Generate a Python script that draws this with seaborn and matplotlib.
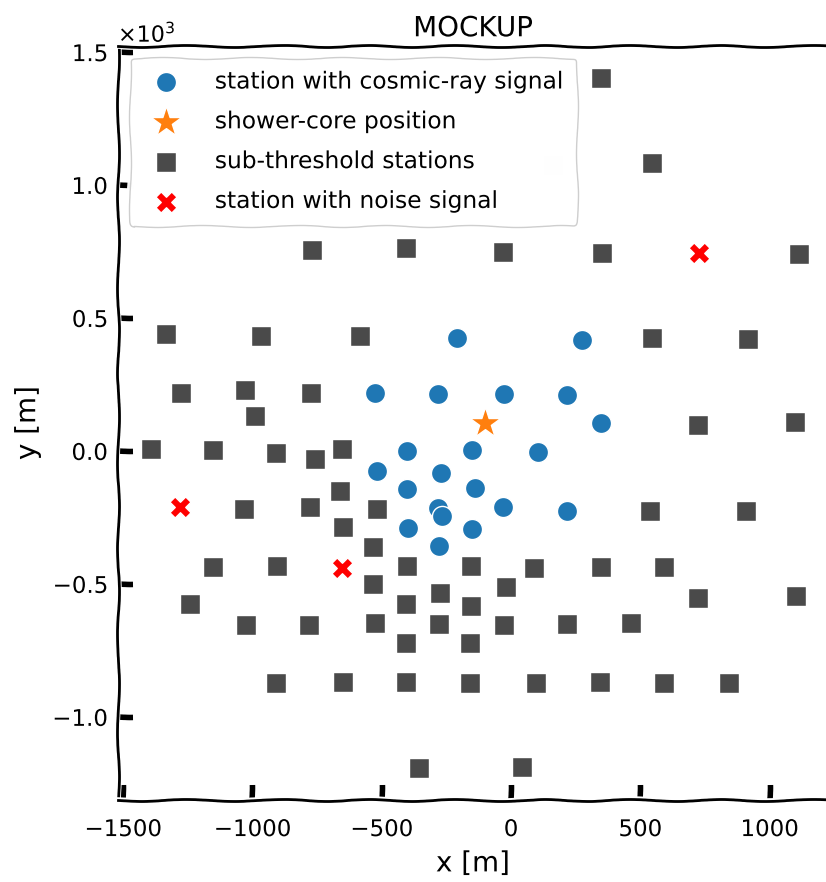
import numpy as np
import pandas as pd
import matplotlib
matplotlib.use("Agg")
import matplotlib.pyplot as plt
import seaborn as sns

# ---------------- data (metres) ----------------
signal_x = [-207, 275, -526, -281, -27, 218, 347, -401, -152, 104, -519, -272,
            -403, -139, -281, -266, -31, 218, -397, -152, -278]
signal_y = [424, 417, 217, 214, 214, 211, 104, 0, 4, -4, -75, -84,
            -144, -140, -215, -244, -209, -224, -291, -294, -356]

core_x = [-101]
core_y = [106]

sub_x = [348, 162, 545,
         -770, -406, -31, 352, 1114,
         -1335, -966, -584, 544, 915,
         -1276, -1028, -773, -990, 723, 1100,
         -1392, -1152, -909, -758, -654,
         -1032, -777, -518, 537, 909,
         -661, -649, -534,
         -1152, -905, -402, -155, 90, 347, 592,
         -534, -275, -19, -406, -155, 723, 1102, -1241,
         -1025, -781, -526, -278, -27, 217, 466,
         -406, -159,
         -909, -650, -406, -157, 97, 344, 592, 845,
         -356, 44]
sub_y = [1402, 1075, 1083,
         756, 763, 748, 744, 741,
         440, 433, 432, 426, 421,
         218, 229, 218, 131, 98, 110,
         8, 3, -8, -30, 8,
         -218, -211, -218, -224, -226,
         -150, -286, -361,
         -436, -432, -432, -432, -440, -436, -436,
         -500, -534, -511, -575, -583, -553, -545, -575,
         -654, -654, -647, -650, -654, -650, -647,
         -722, -722,
         -872, -868, -868, -872, -872, -868, -872, -872,
         -1192, -1188]

noise_x = [-1280, -655, 728]
noise_y = [-209, -439, 743]

labels = ["station with cosmic-ray signal", "shower-core position",
          "sub-threshold stations", "station with noise signal"]

# ---------------- style ----------------
sns.set_theme(style="white")
plt.xkcd()
plt.rcParams["font.family"] = ["DejaVu Sans"]
plt.rcParams["axes.unicode_minus"] = True
plt.rcParams["mathtext.fontset"] = "dejavusans"
for k in ["text.color", "axes.labelcolor", "xtick.color", "ytick.color",
          "xtick.labelcolor", "ytick.labelcolor"]:
    plt.rcParams[k] = "black"

fig = plt.figure(figsize=(8.26, 8.82), dpi=100)
ax = fig.add_axes([118 / 826, 82 / 882, 710 / 826, 754 / 882])

df_sig = pd.DataFrame({"x": signal_x, "y": signal_y})
df_core = pd.DataFrame({"x": core_x, "y": core_y})
df_sub = pd.DataFrame({"x": sub_x, "y": sub_y})
df_noise = pd.DataFrame({"x": noise_x, "y": noise_y})

sns.scatterplot(data=df_sig, x="x", y="y", ax=ax, marker="o", s=210,
                color="#1f77b4", edgecolor="white", linewidth=1, label=labels[0], zorder=3)
sns.scatterplot(data=df_core, x="x", y="y", ax=ax, marker="*", s=540,
                color="#ff7f0e", edgecolor="white", linewidth=1, label=labels[1], zorder=4)
sns.scatterplot(data=df_sub, x="x", y="y", ax=ax, marker="s", s=190,
                color="#4a4a4a", edgecolor="white", linewidth=1, label=labels[2], zorder=2)
sns.scatterplot(data=df_noise, x="x", y="y", ax=ax, marker="X", s=230,
                color="red", edgecolor="white", linewidth=1, label=labels[3], zorder=3)

ax.set_xlim(-1520, 1226)
ax.set_ylim(-1312, 1523)
ax.set_xticks([-1500, -1000, -500, 0, 500, 1000])
ax.set_yticks([-1000, -500, 0, 500, 1000, 1500])
ax.ticklabel_format(axis="y", style="sci", scilimits=(0, 0), useMathText=True)
ax.yaxis.get_offset_text().set_fontsize(16)
ax.yaxis.get_offset_text().set_color("black")

ax.tick_params(axis="both", which="major", direction="in", length=11, width=4,
               labelsize=16.5, color="black", labelcolor="black",
               bottom=True, left=True, top=False, right=False)
ax.tick_params(axis="x", pad=13)
ax.tick_params(axis="y", pad=7)
for sp in ax.spines.values():
    sp.set_linewidth(2)
    sp.set_color("black")

ax.set_xlabel("x [m]", fontsize=20, labelpad=6, color="black")
ax.set_ylabel("y [m]", fontsize=20, labelpad=8, color="black")
ax.set_title("MOCKUP", fontsize=20, pad=7, color="black")

leg = ax.legend(loc="upper left", fontsize=16.8, framealpha=0.96, labelspacing=0.72,
                handletextpad=1.1, borderpad=0.55, edgecolor="0.8")
for t in leg.get_texts():
    t.set_color("black")

fig.savefig("out.png", dpi=100)
